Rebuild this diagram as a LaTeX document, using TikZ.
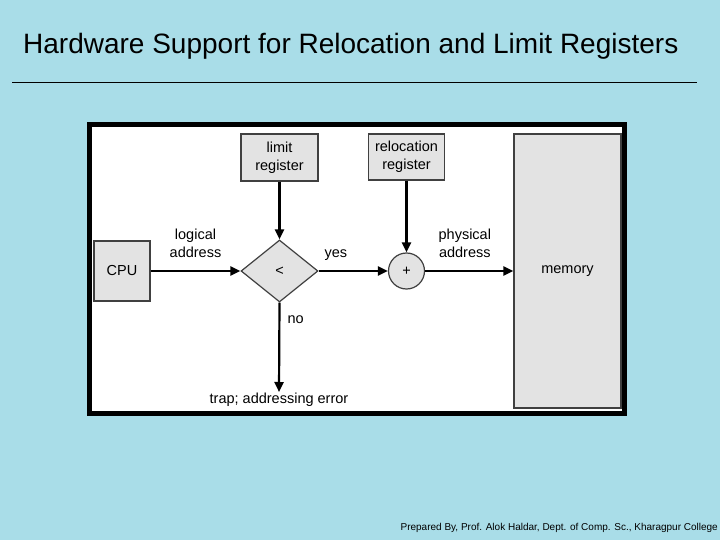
\documentclass[tikz,border=0pt]{standalone}
\usepackage{fontspec}
\setmainfont{Liberation Sans}
\usetikzlibrary{arrows.meta,shapes.geometric}
\definecolor{bgc}{HTML}{A9DDE8}
\definecolor{boxc}{HTML}{E3E3E3}
\begin{document}
\begin{tikzpicture}[x=1pt,y=-1pt,
  box/.style={draw=black!75,line width=1.2pt,fill=boxc,inner sep=0pt,align=center,font=\fontsize{14.5}{18}\selectfont},
  lbl/.style={font=\fontsize{14.5}{18}\selectfont,align=center,inner sep=0pt},
  conn/.style={line width=2.2pt,-{Triangle[length=10pt,width=9pt]}}]
\fill[bgc] (0,0) rectangle (720,540);
\useasboundingbox (0,0) rectangle (720,540);
% title
\node[anchor=west,inner sep=0pt,font=\fontsize{28}{30}\selectfont] (title) at (23,46) {Hardware Support for Relocation and Limit Registers};
\draw[line width=1pt] (12,83) -- (697,83);
% frame
\draw[line width=5pt,fill=white] (89.5,124.5) rectangle (624.5,413.5);
% nodes
\node[box,minimum width=77pt,minimum height=47pt] (limit) at (279.5,157.5) {limit\\register};
\node[box,minimum width=76pt,minimum height=46pt] (reloc) at (406.5,157) {relocation\\register};
\node[box,minimum width=56pt,minimum height=60pt] (cpu) at (122,271) {CPU};
\node[box,diamond,minimum width=77pt,minimum height=62pt] (cmp) at (279.5,271) {<};
\node[box,circle,minimum size=36pt] (plus) at (406.5,271) {+};
\node[box,minimum width=107pt,minimum height=274pt] (mem) at (567.5,271) {memory};
\node[lbl] (trap) at (279,400) {trap; addressing error};
\coordinate (trapin) at (279,392);
% connectors
\draw[conn] (cpu.east) -- (cmp.west) node[lbl,midway,above=12pt] {logical\\address};
\draw[conn] (limit.south) -- (cmp.north);
\draw[conn] (cmp.east) -- (plus.west) node[lbl,pos=0.25,above=9pt] {yes};
\draw[conn] (reloc.south) -- (plus.north);
\draw[conn] (plus.east) -- (mem.west) node[lbl,pos=0.45,above=12pt] {physical\\address};
\draw[conn] (cmp.south) -- (trapin) node[lbl,pos=0.19,right=7pt] {no};
% footer
\node[anchor=east,inner sep=0pt,font=\fontsize{10}{11}\selectfont] (foot) at (718,528) {Prepared By, Prof. Alok Haldar, Dept. of Comp. Sc., Kharagpur College};
\end{tikzpicture}
\end{document}
